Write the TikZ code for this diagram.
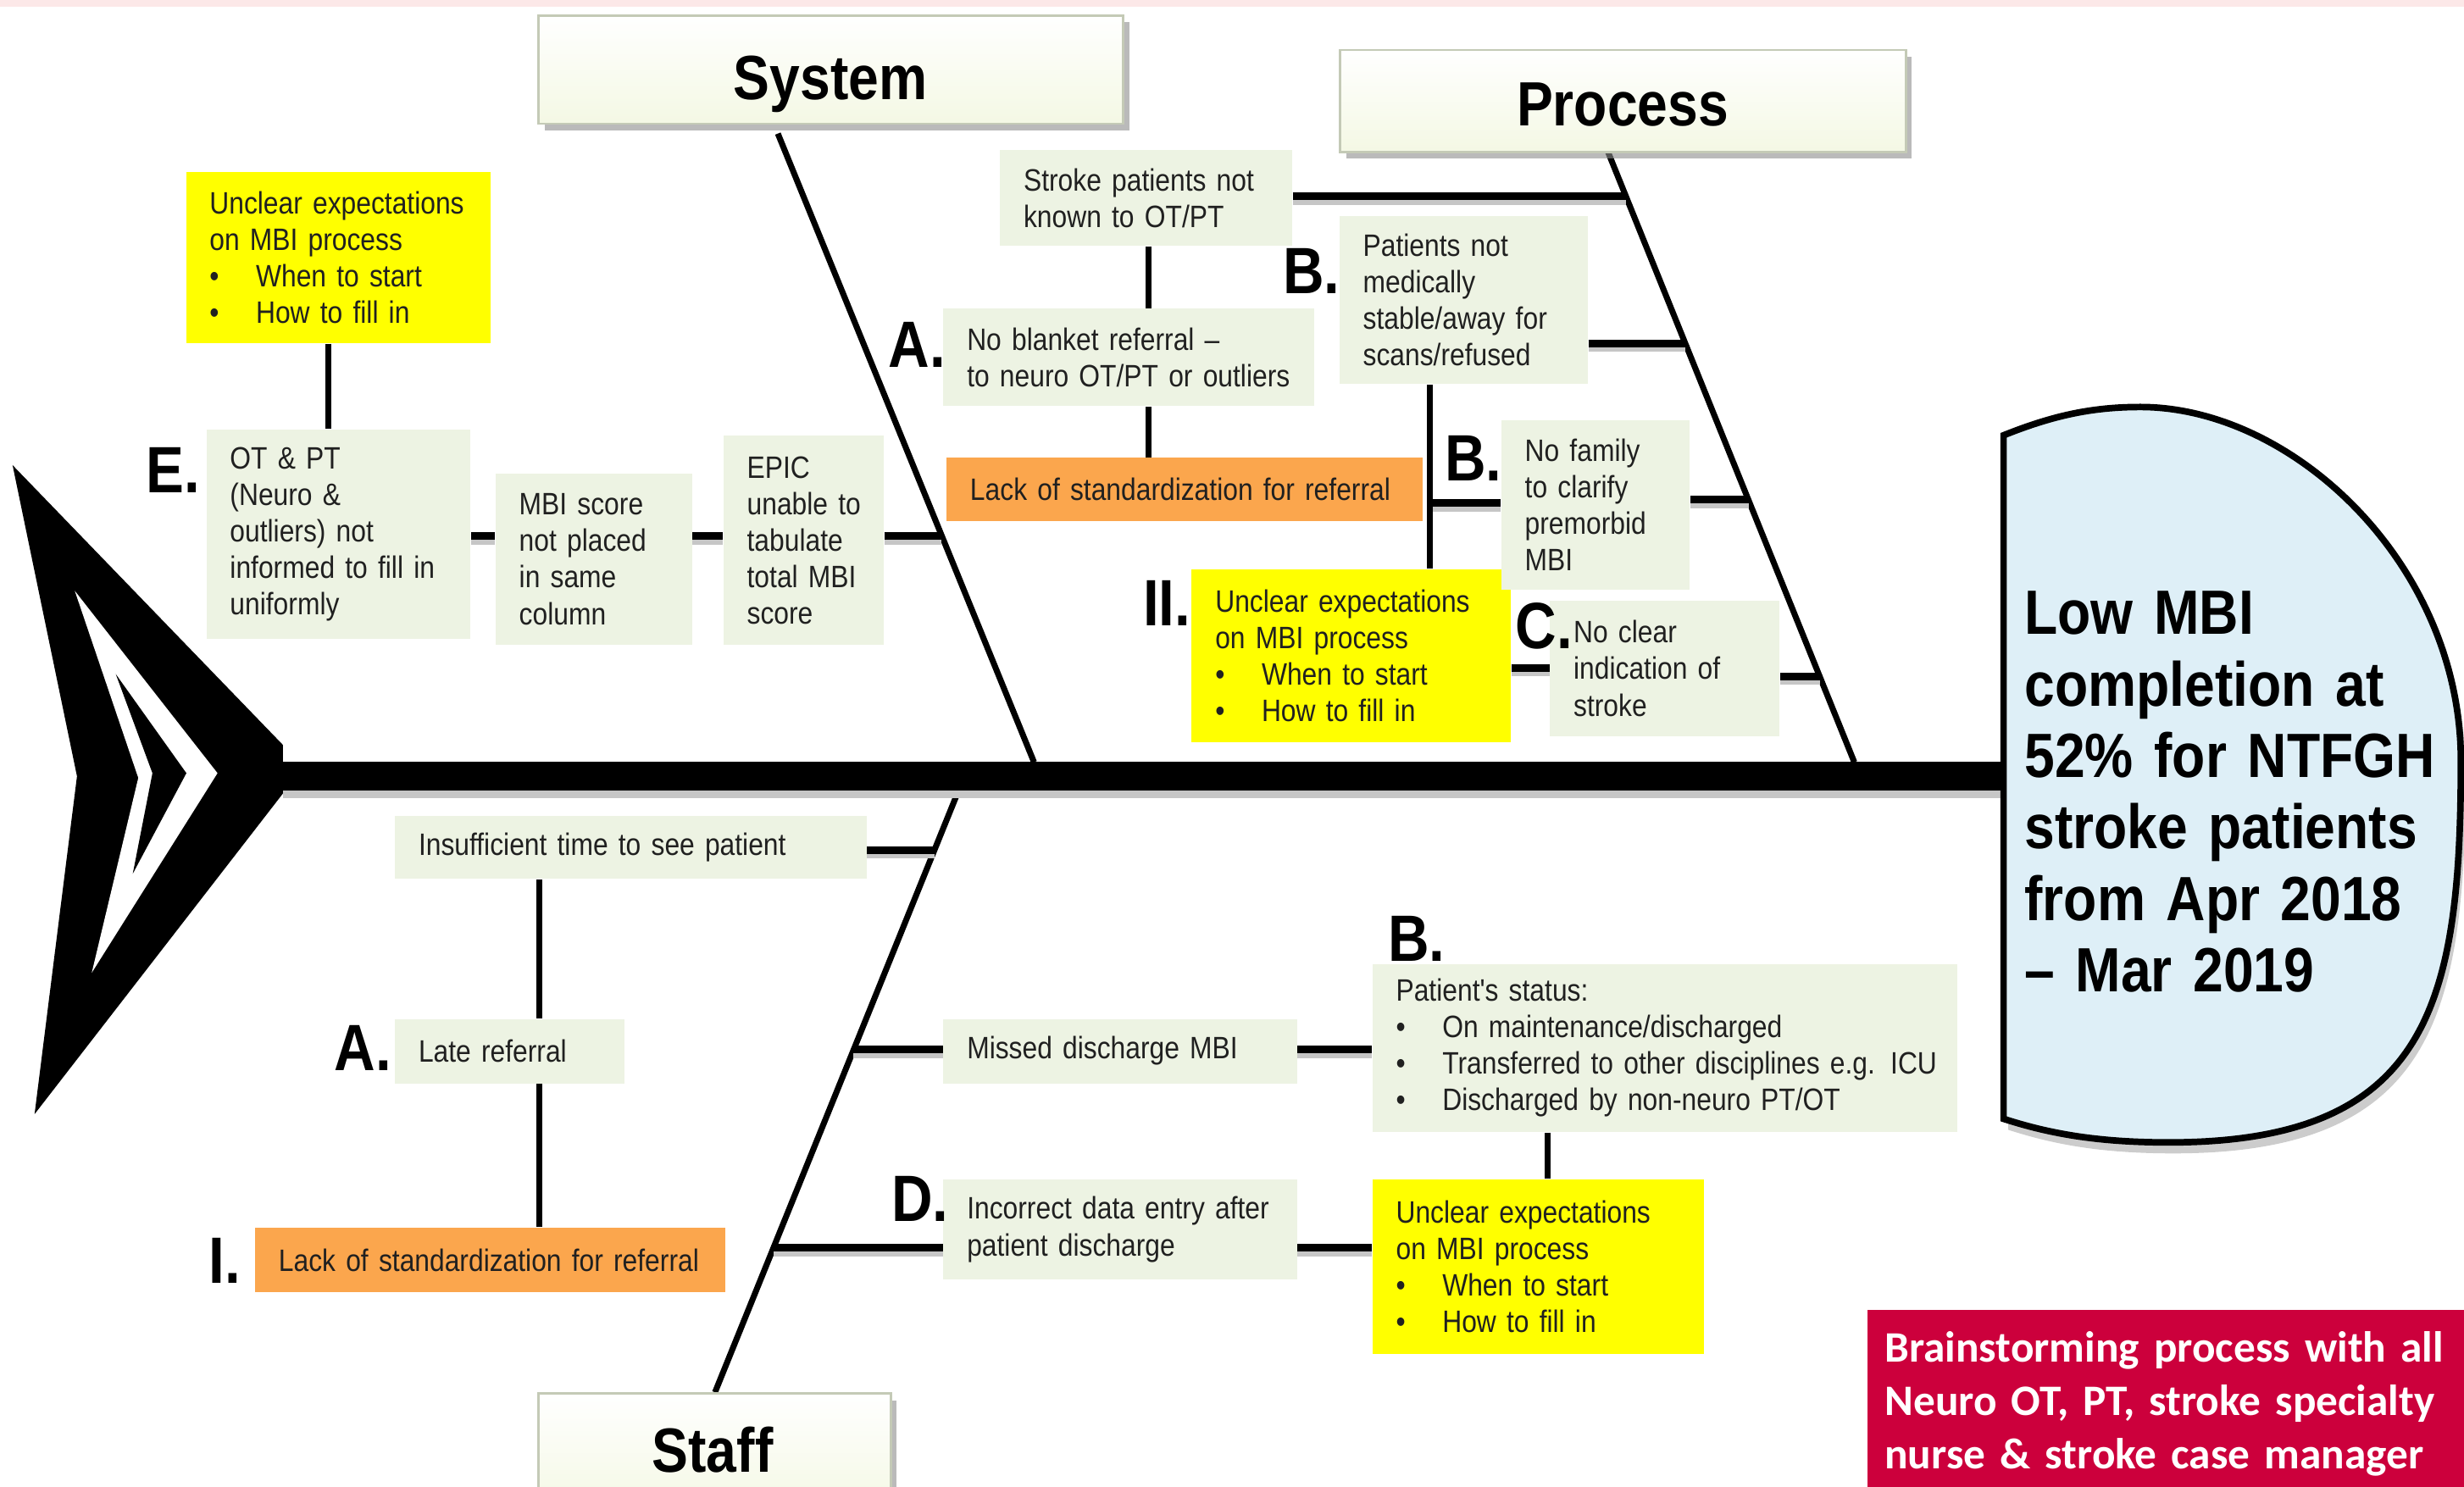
\documentclass[tikz,border=0pt]{standalone}
\usepackage{fontspec}
\setmainfont{Liberation Sans}
\newfontfamily\narf[FakeStretch=0.87]{Liberation Sans}
\newfontfamily\calf{Carlito}
\usetikzlibrary{shadows}
\newlength\unitpx
\setlength\unitpx{0.18546mm}
\definecolor{boxg}{RGB}{237,243,227}
\definecolor{ylw}{RGB}{255,255,0}
\definecolor{org}{RGB}{251,166,77}
\definecolor{headb}{RGB}{222,239,247}
\definecolor{brain}{RGB}{204,0,60}
\definecolor{ttlfill}{RGB}{244,248,228}
\definecolor{ttlborder}{RGB}{196,202,182}
\definecolor{txt}{RGB}{32,32,32}
\definecolor{pinkband}{RGB}{252,232,232}
\newcommand\bul{\makebox[29.5\unitpx][l]{•}}
\newcommand\branch[2]{\draw[brsh] #1 -- #2; \draw[br] #1 -- #2;}
\begin{document}
\begin{tikzpicture}[x=0.18546mm, y=-0.18546mm,
  bw/.code={\pgfmathsetmacro\rkw{#1*0.18546}\edef\rka{\noexpand\pgfkeysalso{text width=\rkw mm}}\rka},
  bh/.code={\pgfmathsetmacro\rkh{#1*0.18546}\edef\rkb{\noexpand\pgfkeysalso{minimum height=\rkh mm}}\rkb},
  cbox/.style={anchor=north west, inner sep=0pt, text=txt,
    font=\narf\fontsize{10.4}{12.25}\selectfont,
    execute at begin node={\leftskip=2.782mm\rightskip=0pt plus 1fil\parindent=0pt}},
  gbox/.style={cbox, fill=boxg},
  ybox/.style={cbox, fill=ylw},
  obox/.style={cbox, fill=org},
  lbl/.style={anchor=base west, inner sep=0pt, text=black, font=\narf\bfseries\fontsize{22}{22}\selectfont},
  ttlbox/.style={anchor=north west, inner sep=0pt, draw=ttlborder, line width=0.8pt,
    top color=white, bottom color=ttlfill,
    drop shadow={shadow xshift=0.7mm, shadow yshift=-0.8mm, fill=black!45, opacity=0.6}},
  ttl/.style={anchor=base, inner sep=0pt, font=\narf\bfseries\fontsize{21}{21}\selectfont},
  br/.style={line width=2.6pt, black},
  brsh/.style={line width=2.6pt, gray!45, transform canvas={yshift=-0.55mm}},
  vc/.style={line width=2pt, black},
  bone/.style={line width=2pt, black},
]
\useasboundingbox (0,0) rectangle (1568,946);
\fill[pinkband] (0,0) rectangle (1568,4.5);

% coordinates
\coordinate (tailR) at (180,494);
\coordinate (headL) at (1275,494);
\coordinate (sysA) at (495,85);
\coordinate (sysB) at (658,485);
\coordinate (prcA) at (1023,96);
\coordinate (prcB) at (1180,485);
\coordinate (stfA) at (610,503);
\coordinate (stfB) at (455,886);
\coordinate (sy1) at (599.3,341);
\coordinate (pr1) at (1034.7,125);
\coordinate (pr2) at (1072.6,218.5);
\coordinate (pr3) at (1112.8,318);
\coordinate (pr4) at (1158.3,430.5);
\coordinate (st1) at (594.6,541);
\coordinate (st2) at (543.2,668);
\coordinate (st3) at (492.2,794);
\coordinate (vE) at (209,0);
\coordinate (vA) at (731,0);
\coordinate (vB) at (910,0);
\coordinate (vS) at (343,0);
\coordinate (vY) at (985,0);
\coordinate (lC) at (0,425);
\coordinate (lB) at (0,320);

% bones
\draw[bone] (sysA) -- (sysB);
\draw[bone] (prcA) -- (prcB);
\draw[bone] (stfA) -- (stfB);

% spine
\draw[line width=9.5pt, gray!45, transform canvas={yshift=-0.95mm}] (tailR) -- (headL);
\draw[line width=9.5pt, black] (tailR) -- (headL);

% tail
\fill[black] (8,296) -- (180,474) -- (180,505) -- (22,709) -- (49,494) -- cycle;
\fill[white] (47.6,376) -- (138.4,492) -- (58.4,619) -- (88,495) -- cycle;
\fill[black] (73.7,429) -- (118.6,492) -- (84.5,556) -- (97,492) -- cycle;

% head
\fill[gray!40, shift={(3,7)}] (1275,712) -- (1275,277) .. controls (1305,265) and (1330,259) .. (1362,259) .. controls (1460,259) and (1566,360) .. (1566,484) .. controls (1566,640) and (1545,727) .. (1380,727) .. controls (1330,727) and (1300,720) .. (1275,712) -- cycle;
\draw[line width=2.2pt, fill=headb] (1275,712) -- (1275,277) .. controls (1305,265) and (1330,259) .. (1362,259) .. controls (1460,259) and (1566,360) .. (1566,484) .. controls (1566,640) and (1545,727) .. (1380,727) .. controls (1330,727) and (1300,720) .. (1275,712) -- cycle;

% title boxes
\node[ttlbox, bw=372, bh=69] (sysbox) at (342,9) {};
\node[ttlbox, bw=360, bh=65] (prcbox) at (852,31) {};
\node[ttlbox, bw=224, bh=75] (stfbox) at (342,886) {};

% content boxes
\node[ybox, bw=194, bh=109] (Y1) at (118,109) {Unclear expectations\\on MBI process\\\bul When to start\\\bul How to fill in};
\node[gbox, bw=168, bh=133] (Ebox) at (131,273) {OT \& PT\\(Neuro \&\\outliers) not\\informed to fill in\\uniformly};
\node[gbox, bw=125, bh=109] (MBI) at (315,301) {MBI score\\not placed\\in same\\column};
\node[gbox, bw=102, bh=133] (EPIC) at (460,277) {EPIC\\unable to\\tabulate\\total MBI\\score};
\node[gbox, bw=186, bh=61] (S1) at (636,95) {Stroke patients not\\known to OT/PT};
\node[gbox, bw=236, bh=62] (Abox) at (600,196) {No blanket referral –\\to neuro OT/PT or outliers};
\node[obox, bw=303, bh=40] (O1) at (602,291) {Lack of standardization for referral};
\node[gbox, bw=158, bh=107] (P1) at (852,137) {Patients not\\medically\\stable/away for\\scans/refused};
\node[ybox, bw=203, bh=110] (Y2) at (758,362) {Unclear expectations\\on MBI process\\\bul When to start\\\bul How to fill in};
\node[gbox, bw=120, bh=108] (P2) at (955,267) {No family\\to clarify\\premorbid\\MBI};
\node[gbox, bw=146, bh=86] (P3) at (986,382) {No clear\\indication of\\stroke};
\node[gbox, bw=300, bh=40] (Ins) at (251,519) {Insufficient time to see patient};
\node[gbox, bw=146, bh=41] (Late) at (251,648) {Late referral};
\node[obox, bw=299, bh=41] (O2) at (162,781) {Lack of standardization for referral};
\node[gbox, bw=225, bh=41] (Missed) at (600,648) {Missed discharge MBI};
\node[gbox, bw=372, bh=107] (Status) at (873,613) {Patient's status:\\\bul On maintenance/discharged\\\bul Transferred to other disciplines e.g. ICU\\\bul Discharged by non-neuro PT/OT};
\node[gbox, bw=225, bh=64] (Incorrect) at (600,750) {Incorrect data entry after\\patient discharge};
\node[ybox, bw=211, bh=111] (Y3) at (873,750) {Unclear expectations\\on MBI process\\\bul When to start\\\bul How to fill in};

% connectors (branches)
\branch{(Ebox.east |- sy1)}{(MBI.west |- sy1)}
\branch{(MBI.east |- sy1)}{(EPIC.west |- sy1)}
\branch{(EPIC.east |- sy1)}{(sy1)}
\branch{(S1.east |- pr1)}{(pr1)}
\branch{(P1.east |- pr2)}{(pr2)}
\branch{(P2.east |- pr3)}{(pr3)}
\branch{(P3.east |- pr4)}{(pr4)}
\branch{(Y2.east |- lC)}{(P3.west |- lC)}
\branch{(vB |- lB)}{(P2.west |- lB)}
\branch{(Ins.east |- st1)}{(st1)}
\branch{(st2)}{(Missed.west |- st2)}
\branch{(Missed.east |- st2)}{(Status.west |- st2)}
\branch{(st3)}{(Incorrect.west |- st3)}
\branch{(Incorrect.east |- st3)}{(Y3.west |- st3)}

% vertical connectors
\draw[vc] (Y1.south -| vE) -- (Ebox.north -| vE);
\draw[vc] (S1.south -| vA) -- (Abox.north -| vA);
\draw[vc] (Abox.south -| vA) -- (O1.north -| vA);
\draw[vc] (P1.south -| vB) -- (Y2.north -| vB);
\draw[vc] (Ins.south -| vS) -- (Late.north -| vS);
\draw[vc] (Late.south -| vS) -- (O2.north -| vS);
\draw[vc] (Status.south -| vY) -- (Y3.north -| vY);

% labels
\node[lbl] (lE) at (92.5,313.6) {E.};
\node[lbl] (lA1) at (565,233.6) {A.};
\node[lbl] (lII) at (727,398) {II.};
\node[lbl] (lB1) at (816,187) {B.};
\node[lbl] (lB2) at (919,306) {B.};
\node[lbl] (lC1) at (964,413) {C.};
\node[lbl] (lA2) at (212.5,681) {A.};
\node[lbl] (lI) at (132.5,816.7) {I.};
\node[lbl] (lD) at (567,777.5) {D.};
\node[lbl] (lB3) at (883,611.5) {B.};

% titles
\node[ttl] (systxt) at (528.5,63.4) {System};
\node[ttl] (prctxt) at (1032.6,80) {Process};
\node[ttl] (stftxt) at (453.5,937) {Staff};

% head text
\node[anchor=north west, inner sep=0pt, bw=285, font=\narf\bfseries\fontsize{21}{24}\selectfont,
  execute at begin node={\parindent=0pt}] (headtxt) at (1288,376) {Low MBI\\completion at\\52\% for NTFGH\\stroke patients\\from Apr 2018\\– Mar 2019};

% brainstorm box
\node[anchor=north west, inner sep=0pt, bw=390, bh=120, fill=brain, text=white,
  font=\calf\bfseries\fontsize{14.6}{18}\selectfont,
  execute at begin node={\leftskip=2.04mm\rightskip=0pt plus 1fil\parindent=0pt}] (brain) at (1188,833) {Brainstorming process with all\\Neuro OT, PT, stroke specialty\\nurse \& stroke case manager};
\end{tikzpicture}
\end{document}
